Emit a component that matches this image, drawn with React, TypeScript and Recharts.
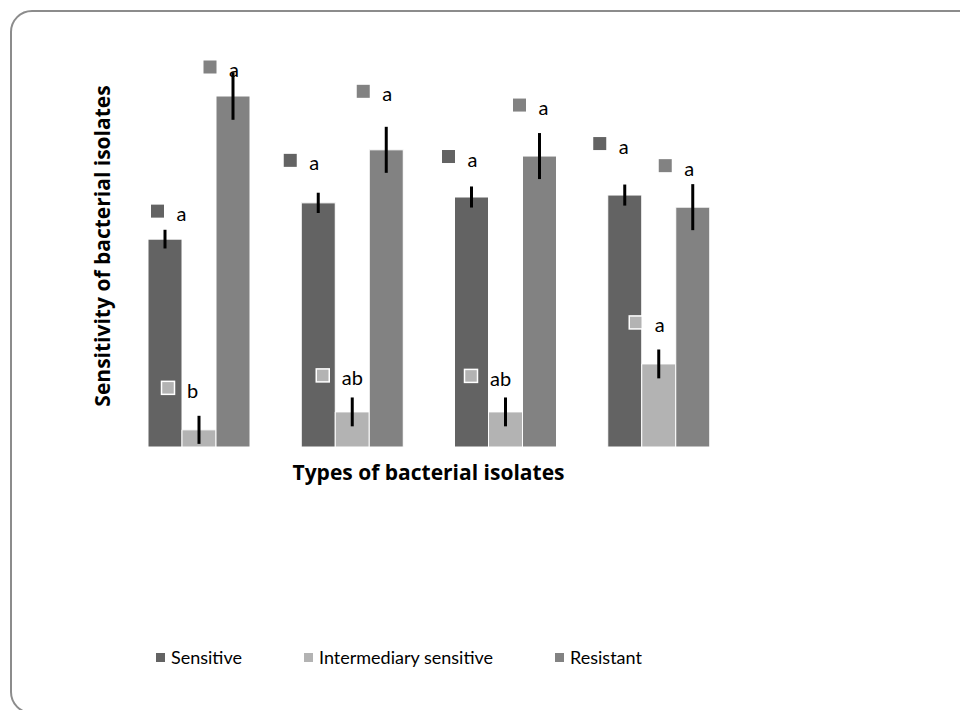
import { Bar, BarChart, ErrorBar, LabelList, XAxis, YAxis } from "recharts";

const isolates = ["Isolate 1", "Isolate 2", "Isolate 3", "Isolate 4"];

const sensitive = [53.3, 62.6, 64.1, 64.6];
const intermediary = [4.4, 9.0, 9.0, 21.3];
const resistant = [90.0, 76.2, 74.6, 61.5];

const sensitiveErr = [2.4, 2.6, 2.7, 2.7];
const intermediaryErr = [3.6, 3.7, 3.7, 3.7];
const resistantErr = [6.1, 5.9, 5.9, 5.9];

const sensitiveSig = ["a", "a", "a", "a"];
const intermediarySig = ["b", "ab", "ab", "a"];
const resistantSig = ["a", "a", "a", "a"];

const data = isolates.map((name, i) => ({
  name,
  sensitive: sensitive[i],
  intermediary: intermediary[i],
  resistant: resistant[i],
  sensitiveErr: sensitiveErr[i],
  intermediaryErr: intermediaryErr[i],
  resistantErr: resistantErr[i],
  sensitiveSig: sensitiveSig[i],
  intermediarySig: intermediarySig[i],
  resistantSig: resistantSig[i],
}));

const FONT = "Lato, 'Noto Sans', sans-serif";
const TITLE_FONT = "'Open Sans', 'Noto Sans', sans-serif";

const series = [
  { key: "sensitive", name: "Sensitive", color: "#636363" },
  { key: "intermediary", name: "Intermediary sensitive", color: "#b3b3b3" },
  { key: "resistant", name: "Resistant", color: "#828282" },
];

// where Excel left each letter label, relative to the bar's top centre
const labelNudge: Record<string, [number, number][]> = {
  sensitive: [[-7.5, -28], [-28, -42.5], [-23, -40.5], [-25, -51.5]],
  intermediary: [[-31, -42], [-29.5, -36.5], [-34.5, -36], [-23, -41.5]],
  resistant: [[-23, -29], [-23, -58.5], [-20, -51], [-27.5, -41.5]],
};

function sigLabel(key: string, color: string) {
  return (props: any) => {
    const vb = props.viewBox ?? props;
    const x = Number(vb.x ?? props.x);
    const y = Number(vb.y ?? props.y);
    const w = Number(vb.width ?? props.width);
    const i = props.index ?? 0;
    const [dx, dy] = labelNudge[key][i] ?? [-25, -40];
    const cx = x + w / 2 + dx;
    const cy = y + dy;
    return (
      <g>
        <rect
          x={cx - 6.5}
          y={cy - 6.5}
          width={13}
          height={13}
          fill={color}
          stroke={key === "intermediary" ? "#ffffff" : "none"}
          strokeWidth={1.5}
        />
        <text
          x={cx + 19}
          y={cy + 2}
          fontFamily={FONT}
          fontSize={20}
          fill="#000"
          dominantBaseline="central"
        >
          {props.value}
        </text>
      </g>
    );
  };
}

function XTitle(props: any) {
  const vb = props.viewBox;
  return (
    <text
      x={vb.x + vb.width / 2}
      y={vb.y + 25}
      textAnchor="middle"
      dominantBaseline="central"
      fontFamily={TITLE_FONT}
      fontWeight="bold"
      fontSize={21}
      fill="#000"
    >
      Types of bacterial isolates
    </text>
  );
}

function YTitle(props: any) {
  const vb = props.viewBox;
  const cx = vb.x + 20;
  const cy = 238;
  return (
    <text
      x={cx}
      y={cy}
      transform={`rotate(-90, ${cx}, ${cy})`}
      textAnchor="middle"
      dominantBaseline="central"
      fontFamily={TITLE_FONT}
      fontWeight="bold"
      fontSize={21}
      fill="#000"
    >
      Sensitivity of bacterial isolates
    </text>
  );
}

export default function App() {
  return (
    <div
      style={{
        position: "relative",
        width: 960,
        height: 702,
        overflow: "hidden",
        fontFamily: FONT,
      }}
    >
      <div
        style={{
          position: "absolute",
          left: 2,
          top: 2,
          width: 972,
          height: 704,
          border: "2px solid #8c8c8c",
          borderRadius: 22,
          boxSizing: "border-box",
        }}
      />
      <div style={{ position: "absolute", left: 0, top: 0 }}>
        <BarChart
          width={960}
          height={702}
          data={data}
          margin={{ top: 49, right: 233, bottom: 223, left: 74 }}
          barCategoryGap={26}
          barGap={0}
        >
          <XAxis
            dataKey="name"
            height={40}
            tick={false}
            tickLine={false}
            axisLine={false}
            label={<XTitle />}
          />
          <YAxis
            type="number"
            domain={[0, 100]}
            width={40}
            tick={false}
            tickLine={false}
            axisLine={false}
            label={<YTitle />}
          />
          {series.map((s) => (
            <Bar
              key={s.key}
              dataKey={s.key}
              name={s.name}
              fill={s.color}
              stroke="#ffffff"
              strokeWidth={1}
              isAnimationActive={false}
            >
              <ErrorBar
                dataKey={`${s.key}Err`}
                width={0}
                stroke="#000"
                strokeWidth={3}
                direction="y"
              />
              <LabelList dataKey={`${s.key}Sig`} content={sigLabel(s.key, s.color)} />
            </Bar>
          ))}
        </BarChart>
      </div>
      <div
        style={{
          position: "absolute",
          left: 148,
          top: 638,
          display: "flex",
          gap: 62,
          fontSize: 18,
          color: "#000",
          lineHeight: "22px",
        }}
      >
        {series.map((s) => (
          <div key={s.key} style={{ display: "flex", alignItems: "center" }}>
            <span
              style={{
                display: "inline-block",
                width: 9,
                height: 9,
                background: s.color,
                marginRight: 6,
              }}
            />
            <span>{s.name}</span>
          </div>
        ))}
      </div>
    </div>
  );
}
